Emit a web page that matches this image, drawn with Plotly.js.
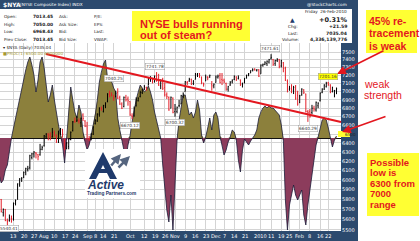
<!DOCTYPE html>
<html><head><meta charset="utf-8">
<script src="https://cdn.plot.ly/plotly-3.0.1.min.js"></script>
<style>html,body{margin:0;padding:0;background:#fff}#chart{width:420px;height:241px}</style>
</head><body><div id="chart"></div>
<script>
// x-axis ticks (trading-day index from 1-Jul-2009) and labels
const tickIdx = [7,12,17,22,27,32,37,43,47,51,56,64,71,76,81,86,91,96,101,106,110,115,120,128,133,138,142,147,152,157,161];
const tickText = ['13','20','27','Aug','10','17','24','Sep','8','14','21','Oct','12','19','26','Nov','9','16','23','Dec','7','14','21','2010','11','19','25','Feb','8','16','22'];
const priceTicks = [5500,5600,5700,5800,5900,6000,6100,6200,6300,6400,6500,6600,6700,6800,6900,7000,7100,7200,7300,7400,7500];
// 6500 is shown in the yellow marker box instead of a plain tick label
const priceTickText = ['5500','5600','5700','5800','5900','6000','6100','6200','6300','6400','','6600','6700','6800','6900','7000','7100','7200','7300','7400','7500'];

// Daily bars [open, high, low, close] by month
const jul09 = [[5790,5850,5780,5820],[5800,5805,5670,5680],[5670,5710,5630,5700],[5700,5705,5585,5590],[5590,5610,5540,5580],[5590,5650,5580,5620],[5610,5640,5570,5600],[5610,5770,5590,5760],[5760,5800,5740,5790],[5800,5965,5800,5960],[5950,6020,5930,6010],[6010,6030,5980,6020],[6030,6090,6020,6080],[6085,6130,6050,6120],[6110,6150,6090,6120],[6130,6270,6110,6260],[6240,6290,6220,6280],[6280,6310,6240,6300],[6290,6300,6230,6280],[6270,6280,6210,6250],[6270,6390,6260,6330],[6330,6370,6320,6350]];
const aug09 = [[6370,6490,6360,6480],[6470,6510,6450,6500],[6500,6510,6430,6480],[6490,6520,6430,6450],[6470,6570,6460,6520],[6520,6540,6470,6500],[6490,6495,6400,6420],[6410,6540,6400,6500],[6510,6570,6490,6560],[6550,6560,6460,6500],[6440,6445,6320,6330],[6340,6410,6330,6400],[6360,6450,6330,6440],[6440,6530,6430,6520],[6540,6650,6530,6640],[6650,6690,6630,6640],[6650,6710,6640,6660],[6650,6680,6620,6650],[6630,6690,6580,6680],[6720,6740,6650,6680],[6650,6660,6580,6590]];
const sep09 = [[6590,6640,6440,6450],[6440,6480,6420,6440],[6450,6510,6430,6500],[6500,6590,6490,6580],[6620,6670,6610,6660],[6650,6740,6640,6730],[6730,6810,6700,6800],[6800,6820,6770,6790],[6760,6840,6750,6830],[6830,6870,6800,6860],[6880,6980,6870,6970],[6970,7010,6930,6950],[6970,6990,6940,6960],[6930,6960,6890,6920],[6940,7010,6930,6980],[6990,7040,6910,6920],[6930,6950,6840,6850],[6850,6870,6790,6800],[6820,6940,6810,6930],[6930,6960,6880,6900],[6910,6940,6830,6890]];
const oct09 = [[6880,6885,6710,6720],[6710,6740,6670,6700],[6710,6820,6700,6800],[6830,6930,6820,6900],[6890,6930,6880,6920],[6940,7010,6930,6990],[6990,7030,6970,7020],[7030,7080,7020,7060],[7050,7060,7010,7030],[7080,7170,7075,7160],[7150,7190,7120,7180],[7160,7170,7100,7120],[7130,7200,7110,7190],[7190,7241.78,7120,7140],[7140,7220,7070,7080],[7070,7150,7030,7140],[7150,7170,7020,7040],[7050,7110,6940,6960],[6960,6990,6910,6940],[6930,6940,6770,6780],[6800,6940,6800,6930],[6920,6930,6740,6750]];
const nov09 = [[6760,6850,6700,6790],[6760,6820,6740,6810],[6830,6900,6810,6830],[6850,6960,6850,6950],[6940,6990,6920,6970],[7000,7130,7000,7120],[7110,7130,7080,7110],[7130,7170,7120,7150],[7150,7160,7080,7090],[7100,7140,7080,7130],[7150,7230,7150,7220],[7210,7230,7180,7220],[7220,7230,7170,7200],[7180,7185,7090,7110],[7100,7110,7060,7090],[7130,7210,7130,7180],[7180,7190,7140,7170],[7180,7210,7170,7200],[7090,7130,7010,7070],[7070,7100,7040,7090]];
const dec09 = [[7110,7200,7110,7180],[7180,7210,7160,7190],[7200,7230,7100,7110],[7150,7230,7080,7140],[7140,7160,7100,7120],[7100,7110,7010,7030],[7030,7070,7000,7060],[7080,7130,7070,7110],[7120,7150,7100,7140],[7150,7200,7140,7190],[7180,7190,7130,7150],[7160,7200,7150,7170],[7140,7150,7070,7080],[7090,7110,7050,7090],[7110,7170,7100,7160],[7170,7210,7160,7200],[7210,7230,7190,7220],[7230,7265,7230,7260],[7270,7290,7250,7270],[7280,7290,7260,7270],[7260,7280,7250,7270],[7270,7280,7180,7190]];
const jan10 = [[7220,7340,7220,7330],[7330,7350,7310,7340],[7340,7380,7330,7360],[7350,7390,7320,7380],[7370,7410,7350,7400],[7420,7471.61,7400,7430],[7400,7410,7320,7340],[7350,7400,7320,7390],[7390,7420,7370,7400],[7400,7410,7290,7310],[7320,7400,7300,7390],[7360,7370,7240,7290],[7290,7310,7130,7140],[7130,7150,6990,7000],[7030,7070,7010,7040],[7030,7090,6980,7020],[7010,7070,6970,7050],[7060,7080,6900,6920],[6950,7010,6830,6850]];
const feb10 = [[6870,6960,6860,6950],[6960,7040,6950,7030],[7020,7030,6970,6990],[6970,6975,6750,6760],[6760,6780,6640,6750],[6760,6790,6690,6700],[6750,6840,6730,6800],[6800,6830,6760,6790],[6780,6880,6760,6870],[6830,6870,6800,6860],[6890,6990,6880,6980],[6990,7040,6980,7030],[7030,7090,7020,7080],[7060,7120,7050,7100],[7110,7120,7070,7090],[7080,7090,6980,6990],[7000,7060,6990,7050],[7010,7020,6930,7013.45],[7013.45,7050.00,6968.43,7035.04]];

// PROC indicator (%) by month
const procJul = [-3.7,-4.5,-4.2,-3.2,-2.7,-1.2,0,1.0,2.0,2.8,3.8,4.8,5.8,6.8,7.6,8.1,7.3,6.3,4.6,5.8,7.6,8.1];
const procAug = [7.0,5.3,3.6,4.3,5.3,3.8,2.3,1.3,0.3,-0.7,-2.5,-0.2,2.8,5.1,3.8,2.6,2.0,3.3,2.6,0.6,-0.4];
const procSep = [-1.2,-0.7,0.2,1.3,2.3,3.8,5.6,6.6,7.4,7.8,6.0,6.3,5.6,5.0,4.6,2.0,0.8,-0.2,-1.2,-2.2,-0.7];
const procOct = [0.2,1.6,2.8,3.8,4.6,5.3,5.0,4.6,4.8,5.2,4.6,3.8,2.6,1.8,1.0,0,-2.7,-4.7,-7.2,-8.4,-5.7,-9.2];
const procNov = [-3.7,-0.2,1.8,3.3,4.3,4.3,3.3,2.3,2.6,2.0,2.6,3.8,2.8,0.3,-0.5,0.1,1.0,2.0,0.8,2.3];
const procDec = [2.6,2.0,0.2,-0.7,-1.7,-1.2,-0.4,0.1,0.8,0.6,-0.2,-2.2,-3.4,-1.2,-0.1,-0.4,-0.7,-0.3,0,0.3,0.8,2.0];
const procJan = [2.6,3.0,3.2,3.0,3.2,3.0,3.0,2.8,2.6,2.3,1.3,-0.2,-6.2,-9.2,-6.7,-5.7,-4.7,-5.7,-6.2];
const procFeb = [-5.7,-5.2,-7.7,-8.7,-6.7,-5.2,-3.7,-2.2,-0.7,0.1,1.0,1.8,2.0,1.8,1.0,0,-0.9,-0.2,0.2];

const bars = [].concat(jul09,aug09,sep09,oct09,nov09,dec09,jan10,feb10);
const proc = [].concat(procJul,procAug,procSep,procOct,procNov,procDec,procJan,procFeb);
const idx = bars.map((b,i)=>i);
const opens = bars.map(b=>b[0]), highs = bars.map(b=>b[1]), lows = bars.map(b=>b[2]), closes = bars.map(b=>b[3]);
const procPos = proc.map(v=>Math.max(v,0)), procNeg = proc.map(v=>Math.min(v,0));

// pixel -> paper helpers
const W=420,H=241,ML=0,MR=79,MT=43,MB=10;
const PW=W-ML-MR, PH=H-MT-MB;
const fx = x => (x-ML)/PW;
const fy = y => (H-MB-y)/PH;
const BLUE='#2c4a6e', RED='#e3171f', YEL='#ffff33', NAVY='#1f3a6b';

const rect=(x0,y0,x1,y1,fill,layer,line)=>({type:'rect',xref:'paper',yref:'paper',x0:fx(x0),x1:fx(x1),y0:fy(y1),y1:fy(y0),fillcolor:fill,line:line||{width:0},layer:layer||'below'});
const T=(x,y,text,size,color,o)=>Object.assign({xref:'paper',yref:'paper',x:fx(x),y:fy(y),text:text,showarrow:false,xanchor:'left',yanchor:'middle',borderpad:0,font:{family:'DejaVu Sans',size:size,color:color}},o||{});
const R=(x,y,text,size)=>T(x,y,text,size,RED,{font:{family:'Liberation Sans',size:size,color:RED}});
const path=(pts,fill,layer)=>({type:'path',xref:'paper',yref:'paper',path:'M'+pts.map(p=>fx(p[0])+','+fy(p[1])).join(' L')+' Z',fillcolor:fill,line:{width:0},layer:layer||'above'});
const arrow=(x0,y0,x1,y1,color,w,size)=>({xref:'paper',yref:'paper',x:fx(x1),y:fy(y1),ax:x0-x1,ay:y0-y1,text:'',showarrow:true,arrowhead:2,arrowsize:size||1,arrowwidth:w||1.5,arrowcolor:color});
const lbl=(x,y,text,bg)=>T(x,y,text,4.3,'#333',{xanchor:'center',bgcolor:bg||'#fff',bordercolor:'#999',borderwidth:0.5,borderpad:0.5});

const shapes=[
  rect(0,0,358,9,BLUE), rect(352,0,358,43,BLUE), rect(341,43,358,241,BLUE), rect(0,231,358,241,BLUE),
  rect(132,11,250,41,YEL), rect(366,10,417,53,YEL), rect(367,153,419,216,YEL),
  rect(338,131,350,137,YEL,'above'),
  {type:'line',xref:'paper',yref:'paper',x0:fx(46),y0:fy(54),x1:fx(341),y1:fy(122),line:{color:RED,width:2},layer:'above'},
  rect(85,149,140,198,'#fff','above'),
  path([[89,179],[103,152],[117,179],[110,179],[103,165],[96,179]],NAVY),
  path([[98,173],[108,173],[106,169],[100,169]],NAVY)
];

const xLabels = tickIdx.map((v,i)=>({xref:'x',yref:'paper',x:v,y:fy(236),text:tickText[i],showarrow:false,xanchor:'center',yanchor:'middle',borderpad:0,font:{family:'DejaVu Sans',size:5,color:'#fff'}}));

const ann=[
  T(2,4.5,'<b>$NYA</b>',6,'#fff'),
  T(19,4.5,'(NYSE Composite Index) INDX',4.2,'#fff'),
  T(348,4.5,'@StockCharts.com',4.2,'#fff',{xanchor:'right'}),
  T(3,17,'Open:',4.2,'#222'), T(32,17,'<b>7013.45</b>',4.4,'#222'), T(58,17,'Ask:',4.2,'#222'), T(93,17,'P/E:',4.2,'#222'),
  T(3,24.5,'High:',4.2,'#222'), T(32,24.5,'<b>7050.00</b>',4.4,'#222'), T(58,24.5,'Ask Size:',4.2,'#222'), T(93,24.5,'EPS:',4.2,'#222'),
  T(3,32,'Low:',4.2,'#222'), T(32,32,'<b>6968.43</b>',4.4,'#222'), T(58,32,'Bid:',4.2,'#222'), T(93,32,'Last:',4.2,'#222'),
  T(3,39,'Prev Close:',4.2,'#222'), T(32,39,'<b>7013.45</b>',4.4,'#222'), T(58,39,'Bid Size:',4.2,'#222'), T(93,39,'VWAP:',4.2,'#222'),
  T(348,12,'Friday  26-Feb-2010',4.2,'#222',{xanchor:'right'}),
  T(289,19.5,'▲',6,NAVY), T(348,19.5,'<b>+0.31%</b>',6.5,'#222',{xanchor:'right'}),
  T(287,26.5,'Chg:',4.2,'#222'), T(348,26.5,'<b>+21.59</b>',4.6,'#222',{xanchor:'right'}),
  T(287,33,'Last:',4.2,'#222'), T(348,33,'<b>7035.04</b>',4.6,'#222',{xanchor:'right'}),
  T(281,39.5,'Volume:',4.2,'#222'), T(348,39.5,'<b>4,336,139,776</b>',4.6,'#222',{xanchor:'right'}),
  R(139,24,'<b>NYSE bulls running</b>',11),
  R(139,35.5,'<b>out of steam?</b>',11),
  R(368,21,'<b>45% re-</b>',10.5),
  R(368,33,'<b>tracement</b>',10.5),
  R(368,45.5,'<b>is weak</b>',10.5),
  R(363,84,'weak',10.5),
  R(363,95,'strength',10.5),
  R(369,162,'<b>Possible</b>',9.5),
  R(369,172.5,'<b>low is</b>',9.5),
  R(369,183,'<b>6300 from</b>',9.5),
  R(369,193.5,'<b>7000</b>',9.5),
  R(369,204,'<b>range</b>',9.5),
  arrow(385,50,337,74,RED,1.6,1.1),
  arrow(387,116,342,132,RED,1.6,1.1),
  T(2,48,'▾ $NYA (Daily) 7035.04',4.2,'#222'),
  T(2,53.5,'■PROC(1) 6500.00 6500000',4.2,'#a89a30'),
  lbl(155,66.5,'7241.78'), lbl(270,48.5,'7471.61'), lbl(114,78.5,'7040.25'),
  lbl(130,125,'6670.12'), lbl(175,122.5,'6700.32'), lbl(307.5,128,'6640.29'), lbl(9,228,'5540.41'),
  lbl(328,76.5,'7201.16','#ffff00'),
  T(344,134,'6500',4.2,'#222'),
  arrow(110,167,121,154,'#55657f',2.5,0.8),
  arrow(117,169,130,156,'#55657f',2.5,0.8),
  T(86,184.5,'<b><i>Active</i></b>',12,NAVY,{font:{family:'Liberation Sans',size:12,color:NAVY}}),
  T(86,193,'<b>Trading Partners.com</b>',4.8,NAVY,{font:{family:'Liberation Sans',size:4.8,color:NAVY}})
].concat(xLabels);

const traces=[
  {type:'scatter',mode:'lines',x:idx,y:procPos,fill:'tozeroy',fillcolor:'#8c803c',line:{width:0},xaxis:'x',yaxis:'y',hoverinfo:'skip'},
  {type:'scatter',mode:'lines',x:idx,y:procNeg,fill:'tozeroy',fillcolor:'#8c3c5c',line:{width:0},xaxis:'x',yaxis:'y',hoverinfo:'skip'},
  {type:'scatter',mode:'lines',x:idx,y:proc,line:{color:'#1c1c38',width:0.8},xaxis:'x',yaxis:'y',hoverinfo:'skip'},
  {type:'ohlc',x:idx,open:opens,high:highs,low:lows,close:closes,xaxis:'x',yaxis:'y2',
   increasing:{line:{color:'#000',width:1}},decreasing:{line:{color:'#e3202a',width:1}},tickwidth:0.3,hoverinfo:'skip'}
];

const layout={
  width:W,height:H,margin:{l:ML,r:MR,t:MT,b:MB,pad:0},paper_bgcolor:'#fff',plot_bgcolor:'#fff',showlegend:false,
  xaxis:{range:[0.4,167.2],tickmode:'array',tickvals:tickIdx,ticktext:tickText,showticklabels:false,showgrid:true,gridcolor:'#d4d4d4',gridwidth:1,
         ticks:'',zeroline:false,showline:false,rangeslider:{visible:false},fixedrange:true},
  yaxis:{range:[-9.3,9.5],showticklabels:false,showgrid:false,zeroline:true,zerolinecolor:'#111',zerolinewidth:1,ticks:'',fixedrange:true},
  yaxis2:{overlaying:'y',side:'right',type:'log',range:[3.739557,3.881874],tickmode:'array',tickvals:priceTicks,ticktext:priceTickText,
          showgrid:true,gridcolor:'#d4d4d4',gridwidth:1,ticks:'',tickfont:{family:'DejaVu Sans',size:5,color:'#fff'},zeroline:false,showline:false,fixedrange:true},
  shapes:shapes,annotations:ann
};
Plotly.newPlot('chart',traces,layout,{staticPlot:true,displayModeBar:false});
</script></body></html>
